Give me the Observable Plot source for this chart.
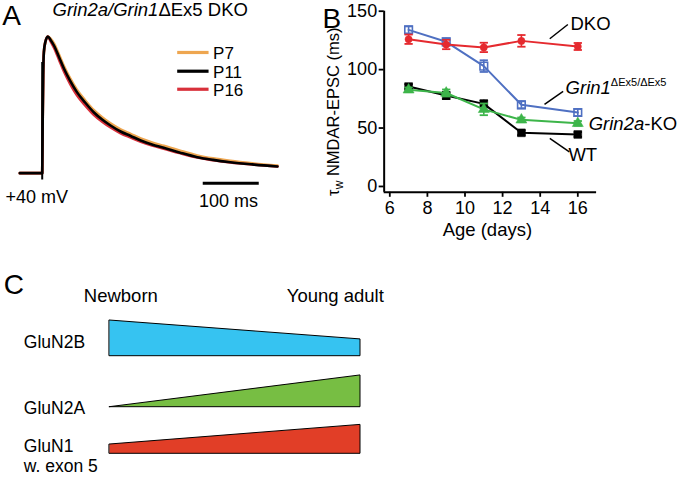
<!DOCTYPE html>
<html><head><meta charset="utf-8">
<script src="https://cdn.jsdelivr.net/npm/d3@7"></script>
<script src="https://cdn.jsdelivr.net/npm/@observablehq/plot@0.6"></script>
<style>
html,body{margin:0;padding:0;background:#fff;}
#fig{position:relative;width:677px;height:478px;overflow:hidden;background:#fff;}
</style></head><body><div id="fig"></div>
<script>
// ---------- Panel A: normalized NMDAR-EPSC traces (time in ms, amplitude normalized) ----------
const traceTime = [-40, 0, 0.8, 1.8, 3, 5.5, 10, 15, 21, 30, 39, 50, 62, 77, 92, 107, 122, 140, 158, 176, 196, 217, 245, 277, 305, 336, 375, 420];
const traceP7  = [0, 0, 0.35, 0.72, 0.885, 0.958, 1.0, 0.985, 0.950, 0.868, 0.782, 0.693, 0.611, 0.532, 0.462, 0.409, 0.364, 0.320, 0.287, 0.254, 0.225, 0.200, 0.166, 0.130, 0.108, 0.090, 0.072, 0.055];
const traceP11 = [0, 0, 0.35, 0.72, 0.885, 0.958, 1.0, 0.975, 0.934, 0.850, 0.764, 0.675, 0.593, 0.515, 0.446, 0.393, 0.349, 0.305, 0.272, 0.239, 0.210, 0.186, 0.152, 0.117, 0.097, 0.080, 0.064, 0.049];
const traceP16 = [0, 0, 0.35, 0.72, 0.885, 0.958, 1.0, 0.965, 0.918, 0.830, 0.742, 0.652, 0.570, 0.494, 0.427, 0.376, 0.334, 0.292, 0.260, 0.229, 0.202, 0.179, 0.147, 0.114, 0.095, 0.078, 0.063, 0.049];
const traceLabels = ["P7", "P11", "P16"];
const stimArtifact = [-0.05, 0.81];
const scaleBarMs = [287.5, 387.5];

// ---------- Panel B: decay time constant vs age ----------
const ages = [7, 9, 11, 13, 16];
const dko = [126, 121.5, 119, 124.6, 119.8];
const dkoErr = [4, 4, 4, 5, 3];
const grin1 = [134, 123.8, 103, 69.9, 63.3];
const grin1Err = [3, 3, 5, 3, 3];
const wt = [85.5, 77.8, 70.7, 45.9, 44.5];
const wtErr = [2, 3, 3, 2, 2];
const grin2a = [82.7, 80, 66, 57, 54];
const grin2aErr = [2, 3, 5, 2, 2];
const ageTicks = [6, 8, 10, 12, 14, 16];
const tauTicks = [0, 50, 100, 150];

// ---------- Panel C: schematic subunit expression ----------
const subunits = ["GluN2B", "GluN2A", "GluN1"];
const exprNewborn = [1.0, 0, 0.26];
const exprAdult = [0.47, 0.89, 0.81];
const stages = ["Newborn", "Young adult"];

// ---------- styles / layout ----------
const font = '"Liberation Sans", Arial, Helvetica, sans-serif';
const baseStyle = {fontFamily: font, background: "transparent", overflow: "visible", color: "black"};
const traceColors = {P7: "#EEA650", P11: "#000000", P16: "#D8303A"};
const subunitColors = ["#36C3F1", "#77BE43", "#E13E27"];

const fig = document.getElementById("fig");
function place(svg, left, top) {
  svg.style.position = "absolute";
  svg.style.left = left + "px";
  svg.style.top = top + "px";
  fig.appendChild(svg);
  return svg;
}
function rich(svg, full, parts) {
  d3.select(svg).selectAll("text").filter(function () { return this.textContent === full; }).each(function () {
    const t = d3.select(this);
    t.text(null);
    for (const p of parts) {
      const s = t.append("tspan").text(p.text);
      if (p.italic) s.attr("font-style", "italic");
      if (p.size) s.attr("font-size", p.size);
      if (p.dy) s.attr("dy", p.dy);
    }
  });
}

// ---------- Panel A ----------
const traceSeries = {P7: traceP7, P11: traceP11, P16: traceP16};
const traceRows = traceLabels.flatMap(lab => traceTime.map((t, i) => ({trace: lab, t, v: traceSeries[lab][i]})));
const legendY = [0.883, 0.746, 0.614];
const titleA = "Grin2a/Grin1ΔEx5 DKO";
const plotA = Plot.plot({
  width: 310, height: 260,
  marginLeft: 19.3, marginRight: 0, marginTop: 8.66, marginBottom: 60,
  x: {domain: [-40, 479], axis: null},
  y: {domain: [-0.2, 1.2], axis: null},
  style: baseStyle,
  marks: [
    ...["P7", "P16", "P11"].map(lab => Plot.line(traceRows.filter(d => d.trace === lab),
      {x: "t", y: "v", stroke: traceColors[lab], strokeWidth: 2.6, curve: "monotone-x"})),
    Plot.ruleX([0], {y1: stimArtifact[0], y2: stimArtifact[1], stroke: "black", strokeWidth: 2}),
    Plot.ruleY([-0.073], {x1: scaleBarMs[0], x2: scaleBarMs[1], stroke: "black", strokeWidth: 3}),
    Plot.link(traceLabels, {x1: 241, x2: 297, y1: (d, i) => legendY[i], y2: (d, i) => legendY[i],
      stroke: d => traceColors[d], strokeWidth: 3.2}),
    Plot.text(traceLabels, {x: 305, y: (d, i) => legendY[i], text: d => d, textAnchor: "start",
      lineAnchor: "middle", fontSize: 17, dy: 1}),
    Plot.text(["A"], {frameAnchor: "top-left", dx: -17.6, dy: 16.3, lineAnchor: "bottom", textAnchor: "start", fontSize: 28}),
    Plot.text([titleA], {frameAnchor: "top-left", dx: 32.7, dy: 7.3, lineAnchor: "bottom", textAnchor: "start", fontSize: 18.5}),
    Plot.text(["+40 mV"], {frameAnchor: "top-left", dx: -14.3, dy: 194, lineAnchor: "bottom", textAnchor: "start", fontSize: 18}),
    Plot.text(["100 ms"], {frameAnchor: "top-left", dx: 208.7, dy: 197.8, lineAnchor: "bottom", textAnchor: "middle", fontSize: 18})
  ]
});
rich(plotA, titleA, [{text: "Grin2a/Grin1", italic: true}, {text: "ΔEx5 DKO"}]);
place(plotA, 0, 0);

// ---------- Panel B ----------
const seriesB = [
  {name: "Grin1", values: grin1, err: grin1Err, color: "#4F70C2", symbol: "square", filled: false, r: 4.3},
  {name: "DKO", values: dko, err: dkoErr, color: "#E52A2F", symbol: "circle", filled: true, r: 3.6},
  {name: "WT", values: wt, err: wtErr, color: "#000000", symbol: "square", filled: true, r: 4.4},
  {name: "Grin2a", values: grin2a, err: grin2aErr, color: "#3DB54A", symbol: "triangle", filled: true, r: 4.1}
];
const rowsOf = s => ages.map((a, i) => ({age: a, tau: s.values[i], err: s.err[i]}));
const capHalf = 0.22;
const yLabel = "τw NMDAR-EPSC (ms)";
const labelGrin1 = "Grin1ΔEx5/ΔEx5";
const labelGrin2a = "Grin2a-KO";
const annotationsMid = [
  {text: "DKO", x: 15.61, y: 139.4},
  {text: labelGrin2a, x: 16.58, y: 53.0},
  {text: "WT", x: 15.5, y: 26.5}
];
const annotationsBase = [
  {text: labelGrin1, x: 15.35, y: 78.9}
];
const leaders = [
  {x1: 14.51, y1: 126.4, x2: 15.47, y2: 138.6},
  {x1: 14.23, y1: 70.2, x2: 15.22, y2: 81.3},
  {x1: 14.51, y1: 41.2, x2: 15.55, y2: 29.6}
];
const plotB = Plot.plot({
  width: 357, height: 260,
  marginLeft: 63.66, marginRight: 80.9, marginTop: 10.7, marginBottom: 68.2,
  x: {domain: [5.7, 17]},
  y: {domain: [-5, 150]},
  style: baseStyle,
  marks: [
    Plot.axisY({ticks: tauTicks, tickSize: 5, tickPadding: 2, fontSize: 18, strokeWidth: 1.8, label: null}),
    Plot.axisX({ticks: ageTicks, tickSize: 5, tickPadding: 4, fontSize: 18, strokeWidth: 1.8, label: null}),
    Plot.ruleX([5.7], {y1: -5, y2: 150, stroke: "black", strokeWidth: 2}),
    Plot.ruleY([-5], {x1: 5.7, x2: 17, stroke: "black", strokeWidth: 2}),
    ...seriesB.flatMap(s => {
      const rows = rowsOf(s);
      return [
        Plot.line(rows, {x: "age", y: "tau", stroke: s.color, strokeWidth: 2}),
        Plot.ruleX(rows, {x: "age", y1: d => d.tau - d.err, y2: d => d.tau + d.err, stroke: s.color, strokeWidth: 1.6}),
        Plot.link(rows, {x1: d => d.age - capHalf, x2: d => d.age + capHalf, y1: d => d.tau + d.err, y2: d => d.tau + d.err, stroke: s.color, strokeWidth: 1.8}),
        Plot.link(rows, {x1: d => d.age - capHalf, x2: d => d.age + capHalf, y1: d => d.tau - d.err, y2: d => d.tau - d.err, stroke: s.color, strokeWidth: 1.8}),
        Plot.dot(rows, {x: "age", y: "tau", symbol: s.symbol, r: s.r,
          fill: s.filled ? s.color : "none", stroke: s.color, strokeWidth: s.filled ? 0.5 : 1.6})
      ];
    }),
    Plot.link(leaders, {x1: "x1", y1: "y1", x2: "x2", y2: "y2", stroke: "black", strokeWidth: 1.5}),
    Plot.text(annotationsMid, {x: "x", y: "y", text: "text", textAnchor: "start", lineAnchor: "middle", fontSize: 18.5}),
    Plot.text(annotationsBase, {x: "x", y: "y", text: "text", textAnchor: "start", lineAnchor: "bottom", fontSize: 18.5}),
    Plot.text([yLabel], {frameAnchor: "left", rotate: -90, dx: -50.7, dy: 10, textAnchor: "middle", fontSize: 16.5}),
    Plot.text(["Age (days)"], {frameAnchor: "bottom", dx: -3, dy: 38, lineAnchor: "middle", textAnchor: "middle", fontSize: 18.5}),
    Plot.text(["B"], {frameAnchor: "top-left", dx: -61.7, dy: 16.3, lineAnchor: "bottom", textAnchor: "start", fontSize: 28})
  ]
});
rich(plotB, yLabel, [{text: "τ"}, {text: "w", size: 12, dy: 4}, {text: " NMDAR-EPSC (ms)", dy: -4}]);
rich(plotB, labelGrin1, [{text: "Grin1", italic: true}, {text: "ΔEx5/ΔEx5", size: 11, dy: -8}]);
rich(plotB, labelGrin2a, [{text: "Grin2a", italic: true}, {text: "-KO"}]);
place(plotB, 320, 0);

// ---------- Panel C ----------
// y scale in pixels measured up from the bottom of the panel
const rowBase = [122.3, 71.3, 24.7];   // baseline of each band
const amp = 35.7;                       // px per unit of relative expression
const labelY = [131, 65, 26.5];         // baselines of row labels
const plotC = Plot.plot({
  width: 400, height: 208,
  marginLeft: 109.3, marginRight: 40, marginTop: 0, marginBottom: 0,
  x: {domain: [0, 1], axis: null},
  y: {domain: [0, 208], axis: null},
  style: baseStyle,
  marks: [
    ...subunits.map((s, i) => Plot.areaY([{x: 0, e: exprNewborn[i]}, {x: 1, e: exprAdult[i]}],
      {x: "x", y1: () => rowBase[i], y2: d => rowBase[i] + d.e * amp,
       fill: subunitColors[i], stroke: "black", strokeWidth: 1})),
    Plot.text(subunits, {frameAnchor: "left", dx: -86, y: (d, i) => labelY[i], text: d => d,
      lineAnchor: "bottom", textAnchor: "start", fontSize: 17.5}),
    Plot.text(["w. exon 5"], {frameAnchor: "left", dx: -86, y: () => 6.5, lineAnchor: "bottom", textAnchor: "start", fontSize: 17.5}),
    Plot.text([stages[0]], {x: 0, y: () => 176.3, dx: -26, lineAnchor: "bottom", textAnchor: "start", fontSize: 18.5}),
    Plot.text([stages[1]], {x: 1, y: () => 176.3, dx: 23.3, lineAnchor: "bottom", textAnchor: "end", fontSize: 18.5}),
    Plot.text(["C"], {frameAnchor: "left", dx: -106, y: () => 184.7, lineAnchor: "bottom", textAnchor: "start", fontSize: 28})
  ]
});
place(plotC, 0, 270);
</script></body></html>
